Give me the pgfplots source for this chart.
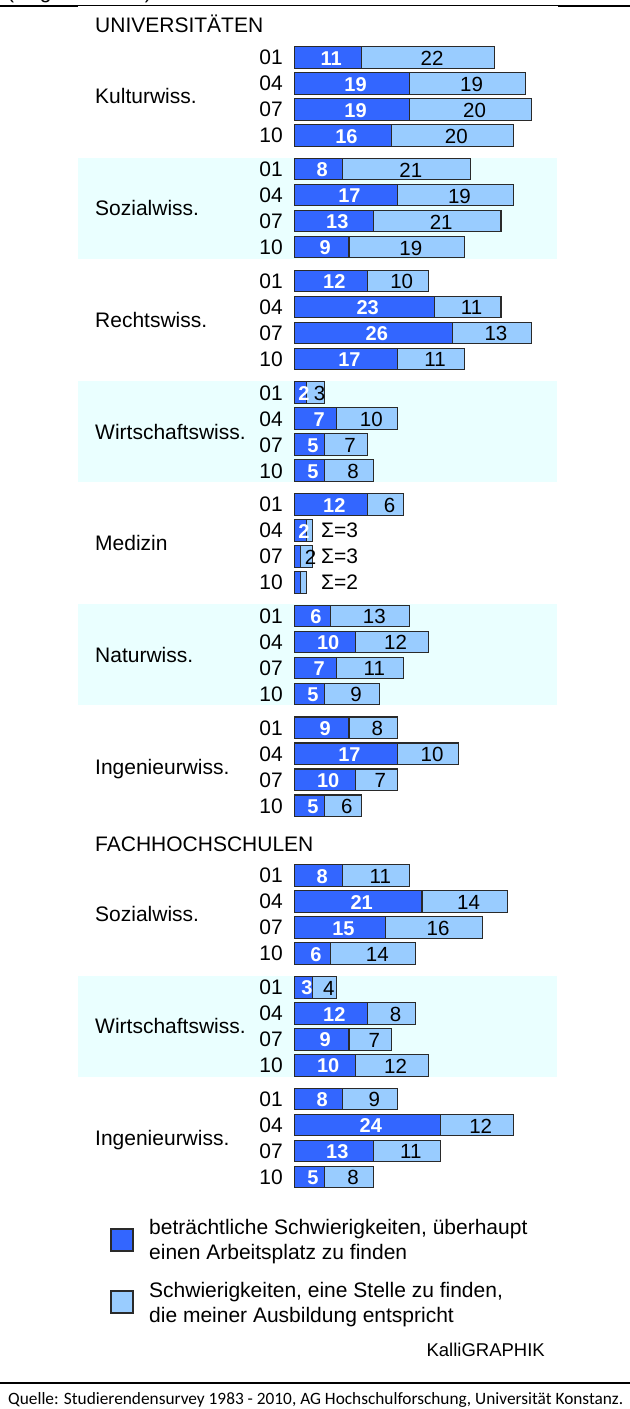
\documentclass[border=0pt]{standalone}
\usepackage{fontspec}
\setmainfont{Liberation Sans}
\newfontfamily\qfont{Carlito}
\usepackage{pgfplots}
\usepackage{pgfplotstable}
\pgfplotsset{compat=1.18}
\definecolor{dkb}{HTML}{3366FF}
\definecolor{ltb}{HTML}{99CCFF}
\definecolor{band}{HTML}{EAFFFF}
\definecolor{edge}{HTML}{2A2A2A}
\newcommand\fs[1]{\fontsize{#1bp}{#1bp}\selectfont}

% y = row position (pixels from top), dark / light = percentages, dl / ll = printed labels
\pgfplotstableread{
y      dark light dl ll
57.5   11 22 11 22
83.5   19 19 19 19
109.5  19 20 19 20
135.5  16 20 16 20
169.2  8  21 8  21
195.2  17 19 17 19
221.2  13 21 13 21
247.2  9  19 9  19
280.9  12 10 12 10
306.9  23 11 23 11
332.9  26 13 26 13
358.9  17 11 17 11
392.6  2  3  2  3
418.6  7  10 7  10
444.6  5  7  5  7
470.6  5  8  5  8
504.3  12 6  12 6
530.3  2  1  2  {}
556.3  1  2  {} 2
582.3  1  1  {} {}
616.0  6  13 6  13
642.0  10 12 10 12
668.0  7  11 7  11
694.0  5  9  5  9
727.7  9  8  9  8
753.7  17 10 17 10
779.7  10 7  10 7
805.7  5  6  5  6
875.5  8  11 8  11
901.5  21 14 21 14
927.5  15 16 15 16
953.5  6  14 6  14
987.3  3  4  3  4
1013.3 12 8  12 8
1039.3 9  7  9  7
1065.3 10 12 10 12
1099.1 8  9  8  9
1125.1 24 12 24 12
1151.1 13 11 13 11
1177.1 5  8  5  8
}\data

\begin{document}
\begin{tikzpicture}
% background bands (pixel coordinates, y downwards)
\begin{scope}[x=1bp,y=-1bp,shift={(0,1409bp)}]
  \fill[band] (78,157.7) rectangle (557,258.7);
  \fill[band] (78,381.1) rectangle (557,482.1);
  \fill[band] (78,604.5) rectangle (557,705.5);
  \fill[band] (78,975.8) rectangle (557,1076.8);
\end{scope}

\begin{axis}[
  at={(0,0)}, anchor=south west,
  scale only axis, width=630bp, height=1409bp,
  xmin=-48.405, xmax=55.214, ymin=0, ymax=1409, y dir=reverse,
  axis lines=none, clip=false,
]
\addplot[xbar, bar width=21.5bp, bar shift=0pt, fill=ltb, draw=edge, line width=1.1bp]
  table[x expr=\thisrow{dark}+\thisrow{light}, y=y]{\data};
\addplot[xbar, bar width=21.5bp, bar shift=0pt, fill=dkb, draw=edge, line width=1.1bp]
  table[x=dark, y=y]{\data};
\addplot[draw=none, mark=none, nodes near coords, point meta=explicit symbolic,
  nodes near coords align={center},
  every node near coord/.append style={font=\fs{20}\bfseries, text=white, inner sep=0pt, xshift=3.5bp, yshift=-0.8bp}]
  table[x expr=\thisrow{dark}/2, y=y, meta=dl]{\data};
\addplot[draw=none, mark=none, nodes near coords, point meta=explicit symbolic,
  nodes near coords align={center},
  every node near coord/.append style={font=\fs{20.5}, text=black, inner sep=0pt, xshift=4bp, yshift=-0.8bp}]
  table[x expr=\thisrow{dark}+\thisrow{light}/2, y=y, meta=ll]{\data};
\end{axis}

\begin{scope}[x=1bp,y=-1bp,shift={(0,1409bp)}, every node/.style={inner sep=0pt, font=\fs{21}}]
  % cut-off heading at the very top
  \node[anchor=base west] at (7,-1.5) {(Angaben in \%)};
  \draw[line width=2bp] (0,6) -- (78,6);
  \draw[line width=1bp] (78,6) -- (558,6);
  \draw[line width=2bp] (558,6) -- (630,6);
  % section headers
  \node[anchor=base west] at (95,33) {UNIVERSITÄTEN};
  \node[anchor=base west] at (95,851.7) {FACHHOCHSCHULEN};
  % group labels
  \foreach \c/\t in {96.5/Kulturwiss., 208.2/Sozialwiss., 319.9/Rechtswiss., 431.6/Wirtschaftswiss., 543.3/Medizin, 655/Naturwiss., 766.7/Ingenieurwiss., 914.5/Sozialwiss., 1026.3/Wirtschaftswiss., 1138.1/Ingenieurwiss.}
    \node[anchor=base west] at (95,\c+7.5) {\t};
  % year labels
  \foreach \b in {57.5,169.2,280.9,392.6,504.3,616.0,727.7,875.5,987.3,1099.1}{
    \node[anchor=base east] at (283,\b+7.5) {01};
    \node[anchor=base east] at (283,\b+33.5) {04};
    \node[anchor=base east] at (283,\b+59.5) {07};
    \node[anchor=base east] at (283,\b+85.5) {10};
  }
  % sums for Medizin
  \node[anchor=base west] at (321,537.8) {Σ=3};
  \node[anchor=base west] at (321,563.8) {Σ=3};
  \node[anchor=base west] at (321,589.8) {Σ=2};
  % legend
  \filldraw[fill=dkb, draw=edge, line width=1.1bp] (111,1229) rectangle (133,1251);
  \filldraw[fill=ltb, draw=edge, line width=1.1bp] (111,1291) rectangle (133,1313);
  \node[anchor=base west] at (149,1234.5) {beträchtliche Schwierigkeiten, überhaupt};
  \node[anchor=base west] at (149,1259.5) {einen Arbeitsplatz zu finden};
  \node[anchor=base west] at (149,1297.5) {Schwierigkeiten, eine Stelle zu finden,};
  \node[anchor=base west] at (149,1322.5) {die meiner Ausbildung entspricht};
  \node[anchor=base east, font=\fs{18.5}] at (545,1357) {KalliGRAPHIK};
  % bottom rule and source
  \draw[line width=2.5bp] (0,1383) -- (630,1383);
  \node[anchor=base west] at (8,1405) {\resizebox{615bp}{!}{\qfont Quelle: Studierendensurvey 1983 - 2010, AG Hochschulforschung, Universität Konstanz.}};
\end{scope}

\pgfresetboundingbox
\path[use as bounding box] (0,0) rectangle (630bp,1409bp);
\end{tikzpicture}
\end{document}
